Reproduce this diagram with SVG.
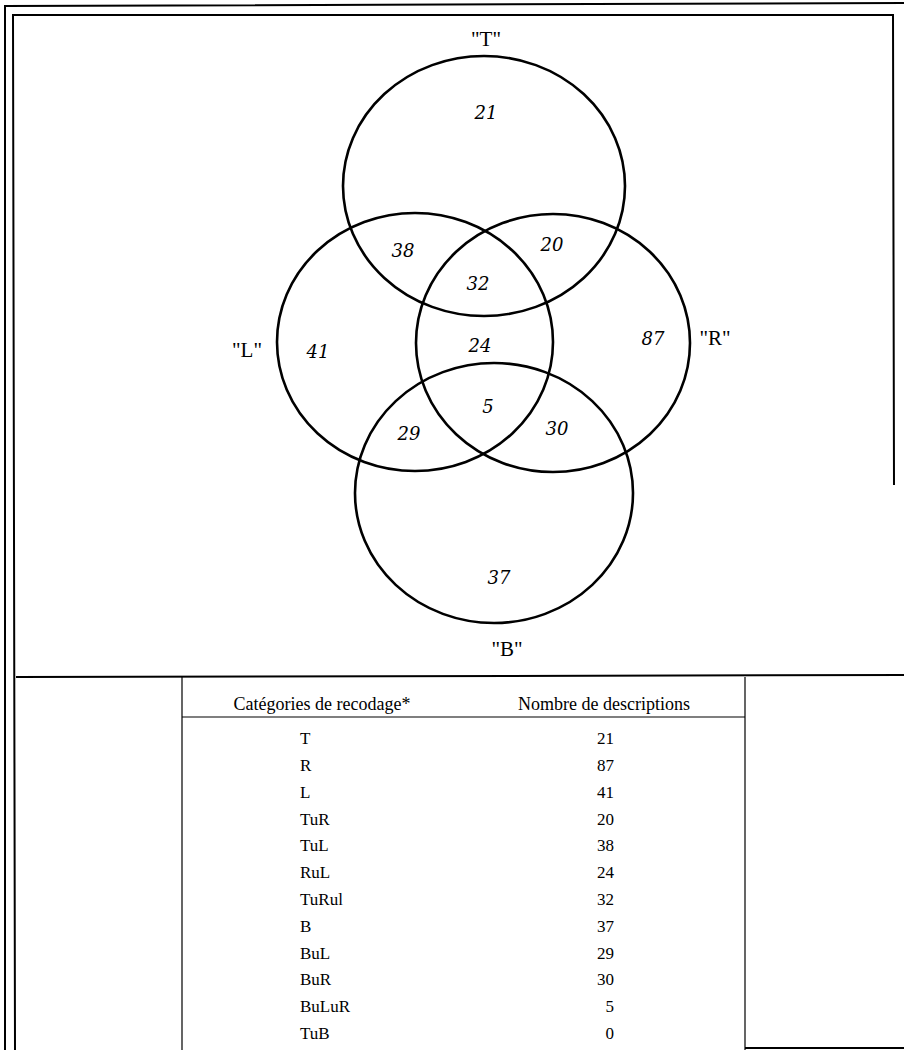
<svg xmlns="http://www.w3.org/2000/svg" width="904" height="1050" viewBox="0 0 904 1050">
<style>
.frame{fill:none;stroke:#000;stroke-width:2}
.thin{fill:none;stroke:#000;stroke-width:1.2}
.set{fill:none;stroke:#000;stroke-width:2.6}
.num{font-family:"DejaVu Serif","Liberation Serif",serif;font-style:italic;font-size:18px;text-anchor:middle;fill:#000}
.lab{font-family:"Liberation Serif",serif;font-size:21px;text-anchor:middle;fill:#000}
.tab{font-family:"Liberation Serif",serif;font-size:17px;fill:#000}
.head{font-family:"Liberation Serif",serif;font-size:18px;fill:#000;text-anchor:middle}
</style>
<rect width="904" height="1050" fill="#fff"/>
<g id="frame">
<path class="frame" d="M5,1050 L5,6 L904,3"/>
<path class="frame" d="M15,1050 L13,15 L893,15 L894,485"/>
<path class="frame" d="M16,677 L904,675"/>
<path class="thin" d="M182,677 L182,1050 M745,677 L745,1050 M182,717 L745,717"/>
<path class="frame" d="M745,1048 L904,1048"/>
</g>
<g id="sets">
<g id="set-T"><ellipse class="set" cx="484" cy="186" rx="141" ry="130"/><text class="lab" x="486" y="46">"T"</text></g>
<g id="set-L"><ellipse class="set" cx="415" cy="342" rx="138" ry="129"/><text class="lab" x="247" y="357">"L"</text></g>
<g id="set-R"><ellipse class="set" cx="553" cy="343" rx="137" ry="129"/><text class="lab" x="715" y="345">"R"</text></g>
<g id="set-B"><ellipse class="set" cx="494" cy="493" rx="139" ry="130"/><text class="lab" x="507" y="656">"B"</text></g>
</g>
<g id="counts">
<text class="num" x="486" y="119">21</text>
<text class="num" x="403" y="257">38</text>
<text class="num" x="552" y="251">20</text>
<text class="num" x="478" y="290">32</text>
<text class="num" x="318" y="358">41</text>
<text class="num" x="480" y="352">24</text>
<text class="num" x="653" y="345">87</text>
<text class="num" x="488" y="413">5</text>
<text class="num" x="409" y="440">29</text>
<text class="num" x="557" y="435">30</text>
<text class="num" x="499" y="584">37</text>
</g>
<g id="table">
<text class="head" x="322" y="710">Catégories de recodage*</text>
<text class="head" x="604" y="710">Nombre de descriptions</text>
<g id="rows">
<text class="tab" x="300" y="744">T</text><text class="tab" x="614" y="744" text-anchor="end">21</text>
<text class="tab" x="300" y="771">R</text><text class="tab" x="614" y="771" text-anchor="end">87</text>
<text class="tab" x="300" y="798">L</text><text class="tab" x="614" y="798" text-anchor="end">41</text>
<text class="tab" x="300" y="825">TuR</text><text class="tab" x="614" y="825" text-anchor="end">20</text>
<text class="tab" x="300" y="851">TuL</text><text class="tab" x="614" y="851" text-anchor="end">38</text>
<text class="tab" x="300" y="878">RuL</text><text class="tab" x="614" y="878" text-anchor="end">24</text>
<text class="tab" x="300" y="905">TuRul</text><text class="tab" x="614" y="905" text-anchor="end">32</text>
<text class="tab" x="300" y="932">B</text><text class="tab" x="614" y="932" text-anchor="end">37</text>
<text class="tab" x="300" y="959">BuL</text><text class="tab" x="614" y="959" text-anchor="end">29</text>
<text class="tab" x="300" y="985">BuR</text><text class="tab" x="614" y="985" text-anchor="end">30</text>
<text class="tab" x="300" y="1012">BuLuR</text><text class="tab" x="614" y="1012" text-anchor="end">5</text>
<text class="tab" x="300" y="1039">TuB</text><text class="tab" x="614" y="1039" text-anchor="end">0</text>
</g>
</g>
</svg>
